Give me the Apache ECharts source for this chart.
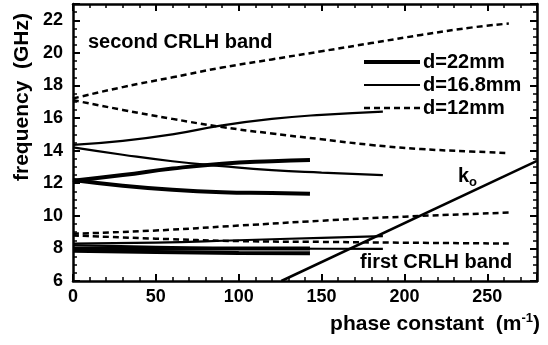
<!DOCTYPE html>
<html><head><meta charset="utf-8">
<script src="https://cdn.jsdelivr.net/npm/echarts@6/dist/echarts.min.js"></script>
<style>html,body{margin:0;padding:0;background:#fff}#c{width:548px;height:345px}</style>
</head><body><div id="c"></div>
<script>
// phase constant (m^-1), frequency (GHz)
const d22_band2_up  = [[0,12.15],[30,12.5],[60,12.9],[90,13.2],[120,13.35],[143,13.42]];
const d22_band2_lo  = [[0,12.2],[30,11.85],[60,11.6],[90,11.45],[120,11.4],[143,11.35]];
const d22_band1_up  = [[0,8.0],[50,8.0],[100,8.0],[143,8.0]];
const d22_band1_lo  = [[0,7.85],[50,7.78],[100,7.72],[143,7.7]];
const d168_band2_up = [[0,14.35],[30,14.6],[60,15.0],[90,15.55],[120,15.95],[150,16.2],[187,16.4]];
const d168_band2_lo = [[0,14.2],[30,13.75],[60,13.35],[90,13.05],[120,12.8],[150,12.65],[187,12.5]];
const d168_band1_up = [[0,8.3],[50,8.35],[100,8.5],[150,8.65],[187,8.75]];
const d168_band1_lo = [[0,8.2],[50,8.1],[100,8.0],[150,7.98],[187,7.97]];
const d12_band2_up  = [[0,17.2],[30,17.9],[60,18.5],[90,19.1],[120,19.6],[150,20.1],[180,20.6],[210,21.1],[240,21.55],[263,21.8]];
const d12_band2_lo  = [[0,17.1],[30,16.5],[60,15.95],[90,15.45],[120,15.05],[150,14.7],[180,14.35],[210,14.1],[240,13.95],[263,13.85]];
const d12_band1_up  = [[0,8.9],[50,9.1],[100,9.4],[150,9.7],[200,9.95],[263,10.2]];
const d12_band1_lo  = [[0,8.8],[50,8.6],[100,8.45],[150,8.4],[200,8.35],[263,8.3]];
const k0_line       = [[125.7,6.0],[280,13.37]];
const legendNames   = ['d=22mm','d=16.8mm','d=12mm'];

const FONT = '"Liberation Sans", Arial, sans-serif';
const chart = echarts.init(document.getElementById('c'), null, {renderer:'canvas'});
function mk(name, data, width, type){
  return {name:name, type:'line', data:data, symbol:'none', showSymbol:false, smooth:true, z:3,
    lineStyle:{color:'#000', width:width, type:type||'solid'},
    itemStyle:{color:'#000'}, emphasis:{disabled:true}, animation:false};
}
const axisCommon = {
  axisLine:{show:true, onZero:false, lineStyle:{color:'#000', width:2.5}},
  axisTick:{show:true, inside:true, length:7, lineStyle:{color:'#000', width:2}},
  splitLine:{show:false}
};
const xMinor = {minorTick:{show:true, splitNumber:5, length:4, lineStyle:{color:'#000', width:1.5}}};
const yMinor = {minorTick:{show:true, splitNumber:4, length:4, lineStyle:{color:'#000', width:1.5}}};
const lab = {fontFamily:FONT, fontWeight:'bold', fontSize:18, color:'#000'};
const opt = {
  animation:false,
  backgroundColor:'#fff',
  grid:{left:73, right:11, top:4, bottom:64, containLabel:false},
  legend:{
    orient:'vertical', left:362, top:52, itemWidth:56, itemHeight:12, itemGap:3,
    selectedMode:false, padding:0,
    itemStyle:{opacity:0},
    data:[
      {name:legendNames[0], lineStyle:{width:4, color:'#000'}},
      {name:legendNames[1], lineStyle:{width:2, color:'#000'}},
      {name:legendNames[2], lineStyle:{width:2.5, color:'#000', type:[6,4]}}
    ],
    textStyle:{fontFamily:FONT, fontWeight:'bold', fontSize:20, lineHeight:20, color:'#000', padding:[0,0,0,-2]}
  },
  xAxis:[
    Object.assign({type:'value', min:0, max:280, interval:50, position:'bottom',
      axisLabel:Object.assign({margin:7, showMaxLabel:false, formatter:v=> (v%50===0 ? String(v) : '')}, lab)},
      axisCommon, xMinor),
    Object.assign({type:'value', min:0, max:280, interval:50, position:'top', axisLabel:{show:false}}, axisCommon, xMinor)
  ],
  yAxis:[
    Object.assign({type:'value', min:6, max:23, interval:2, position:'left',
      axisLabel:Object.assign({margin:10, showMaxLabel:false, formatter:v=> (v%2===0 ? String(v) : '')}, lab)},
      axisCommon, yMinor),
    Object.assign({type:'value', min:6, max:23, interval:2, position:'right', axisLabel:{show:false}}, axisCommon, yMinor)
  ],
  series:[
    mk('d=22mm', d22_band2_up, 4),
    mk('d=22mm', d22_band2_lo, 4),
    mk('d=22mm', d22_band1_up, 4),
    mk('d=22mm', d22_band1_lo, 4),
    mk('d=16.8mm', d168_band2_up, 2.2),
    mk('d=16.8mm', d168_band2_lo, 2.2),
    mk('d=16.8mm', d168_band1_up, 2.2),
    mk('d=16.8mm', d168_band1_lo, 2.2),
    mk('d=12mm', d12_band2_up, 2.5, [6,4]),
    mk('d=12mm', d12_band2_lo, 2.5, [6,4]),
    mk('d=12mm', d12_band1_up, 2.5, [6,4]),
    mk('d=12mm', d12_band1_lo, 2.5, [6,4]),
    Object.assign(mk('k0', k0_line, 2.5), {smooth:false})
  ],
  graphic:[
    {type:'text', left:88, top:32, silent:true,
      style:{text:'second CRLH band', fontFamily:FONT, fontWeight:'bold', fontSize:20, fill:'#000'}},
    {type:'text', left:360, top:252, silent:true,
      style:{text:'first CRLH band', fontFamily:FONT, fontWeight:'bold', fontSize:20, fill:'#000'}},
    {type:'text', left:458, top:166, silent:true,
      style:{text:'{k|k}{o|o}', fontFamily:FONT,
        rich:{k:{fontFamily:FONT, fontWeight:'bold', fontSize:20, fill:'#000'},
              o:{fontFamily:FONT, fontWeight:'bold', fontSize:13, fill:'#000', padding:[12,0,0,0]}}}},
    {type:'text', x:22, y:97, rotation:Math.PI/2, silent:true,
      style:{text:'frequency  (GHz)', fontFamily:FONT, fontWeight:'bold', fontSize:21, fill:'#000',
        align:'center', verticalAlign:'middle'}},
    {type:'text', right:8, top:312, silent:true,
      style:{text:'{a|phase constant  (m}{s|-1}{a|)}', fontFamily:FONT,
        rich:{a:{fontFamily:FONT, fontWeight:'bold', fontSize:21, fill:'#000'},
              s:{fontFamily:FONT, fontWeight:'bold', fontSize:13, fill:'#000', padding:[0,0,12,0]}}}}
  ]
};
chart.setOption(opt);
</script></body></html>
